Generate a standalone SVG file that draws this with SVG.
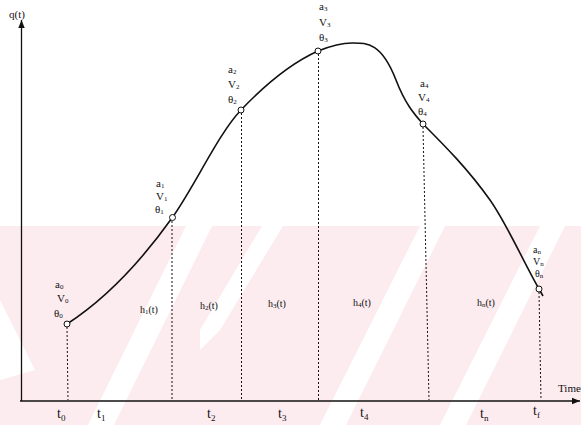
<svg xmlns="http://www.w3.org/2000/svg" width="581" height="425" viewBox="0 0 581 425">
<defs>
<style>
text{font-family:"Liberation Serif","Times New Roman",serif;fill:#111;}
.lb{font-size:11px;}
.sb{font-size:7px;}
.h{font-size:10px;}
.t{font-size:14px;}
.ts{font-size:9px;}
.ax{stroke:#111;stroke-width:1.3;fill:none;}
.dash{stroke:#111;stroke-width:1;stroke-dasharray:2 2;fill:none;}
.pt{fill:#fff;stroke:#111;stroke-width:1;}
.wm{fill:#fdecef;}
.ws{fill:#fff;}
</style>
<marker id="arr" viewBox="0 0 10 10" refX="10" refY="5" markerWidth="8" markerHeight="8" markerUnits="userSpaceOnUse" orient="auto">
<path d="M0,1 L10,5 L0,9 z" fill="#111"/>
</marker>
</defs>
<rect width="581" height="425" fill="#fff"/>
<g id="watermark">
<rect class="wm" x="0" y="226" width="581" height="199"/>
<polygon class="ws" points="88,425 114,425 212,226 186,226"/>
<polygon class="ws" points="200,350 220,330 283,226 262,226 200,330"/>
<polygon class="ws" points="320,425 346,425 445,226 420,226"/>
<polygon class="ws" points="440,425 466,425 565,226 540,226"/>
<polygon class="ws" points="0,300 35,370 0,380"/>
</g>
<g id="axes">
<line class="ax" x1="21.5" y1="401" x2="21.5" y2="20" marker-end="url(#arr)"/>
<line class="ax" x1="20" y1="401" x2="580" y2="401" marker-end="url(#arr)"/>
<text x="9" y="18" style="font-size:11px">q(t)</text>
<text x="558" y="392" style="font-size:11px">Time</text>
</g>
<g id="connectors">
<path class="ax" style="stroke-width:1.6" d="M67,324 C102,301.3 137,267 172,218 C195,185.8 218,134.2 241,110 C266.7,83 292.3,62.5 318,51 C329.3,46.5 340.7,43 352,43 C366.7,43 381.3,42 396,80 C405,103.4 414,114.1 423,124 C445.3,146.3 467.7,168.8 490,200 C506.3,222.9 522.7,260.4 539,289 L543,296"/>
<line class="dash" x1="67" y1="327" x2="68" y2="400"/>
<line class="dash" x1="172" y1="221" x2="172" y2="400"/>
<line class="dash" x1="241.5" y1="113" x2="241.5" y2="400"/>
<line class="dash" x1="318.5" y1="54" x2="318.5" y2="400"/>
<line class="dash" x1="423" y1="127" x2="429" y2="400"/>
<line class="dash" x1="539" y1="292" x2="541" y2="400"/>
</g>
<g id="node0">
<circle class="pt" cx="67" cy="324" r="3"/>
<text class="lb" x="55" y="288">a<tspan class="sb" dy="1">0</tspan></text>
<text class="lb" x="57" y="302">V<tspan class="sb" dy="1">0</tspan></text>
<text class="lb" x="54" y="317">θ<tspan class="sb" dy="1">0</tspan></text>
</g>
<g id="node1">
<circle class="pt" cx="172.5" cy="217.5" r="3"/>
<text class="lb" x="156" y="187">a<tspan class="sb" dy="1">1</tspan></text>
<text class="lb" x="156" y="200">V<tspan class="sb" dy="1">1</tspan></text>
<text class="lb" x="155" y="213">θ<tspan class="sb" dy="1">1</tspan></text>
</g>
<g id="node2">
<circle class="pt" cx="241" cy="110" r="3"/>
<text class="lb" x="228" y="73">a<tspan class="sb" dy="1">2</tspan></text>
<text class="lb" x="228" y="88">V<tspan class="sb" dy="1">2</tspan></text>
<text class="lb" x="228" y="103">θ<tspan class="sb" dy="1">2</tspan></text>
</g>
<g id="node3">
<circle class="pt" cx="318" cy="51" r="3"/>
<text class="lb" x="319" y="10">a<tspan class="sb" dy="1">3</tspan></text>
<text class="lb" x="319" y="26">V<tspan class="sb" dy="1">3</tspan></text>
<text class="lb" x="319" y="41">θ<tspan class="sb" dy="1">3</tspan></text>
</g>
<g id="node4">
<circle class="pt" cx="423" cy="124" r="3"/>
<text class="lb" x="420" y="87">a<tspan class="sb" dy="1">4</tspan></text>
<text class="lb" x="418" y="101">V<tspan class="sb" dy="1">4</tspan></text>
<text class="lb" x="418" y="115">θ<tspan class="sb" dy="1">4</tspan></text>
</g>
<g id="node5">
<circle class="pt" cx="539" cy="289" r="3"/>
<text class="lb" style="font-size:10px" x="533" y="253">a<tspan class="sb" dy="1">n</tspan></text>
<text class="lb" style="font-size:10px" x="533" y="265">V<tspan class="sb" dy="1">n</tspan></text>
<text class="lb" style="font-size:10px" x="535" y="277">θ<tspan class="sb" dy="1">n</tspan></text>
</g>
<g id="intervals">
<text class="h" x="140" y="313">h<tspan class="sb" dy="1">1</tspan><tspan dy="-1">(t)</tspan></text>
<text class="h" x="200" y="309">h<tspan class="sb" dy="1">2</tspan><tspan dy="-1">(t)</tspan></text>
<text class="h" x="268" y="307">h<tspan class="sb" dy="1">3</tspan><tspan dy="-1">(t)</tspan></text>
<text class="h" x="353" y="306">h<tspan class="sb" dy="1">4</tspan><tspan dy="-1">(t)</tspan></text>
<text class="h" x="477" y="306">h<tspan class="sb" dy="1">n</tspan><tspan dy="-1">(t)</tspan></text>
</g>
<g id="ticks">
<text class="t" x="57" y="418">t<tspan class="ts" dy="3">0</tspan></text>
<text class="t" x="97" y="418">t<tspan class="ts" dy="3">1</tspan></text>
<text class="t" x="207" y="418">t<tspan class="ts" dy="3">2</tspan></text>
<text class="t" x="278" y="418">t<tspan class="ts" dy="3">3</tspan></text>
<text class="t" x="360" y="417">t<tspan class="ts" dy="3">4</tspan></text>
<text class="t" x="480" y="418">t<tspan class="ts" dy="3">n</tspan></text>
<text class="t" x="533" y="415">t<tspan class="ts" dy="3">f</tspan></text>
</g>
</svg>
